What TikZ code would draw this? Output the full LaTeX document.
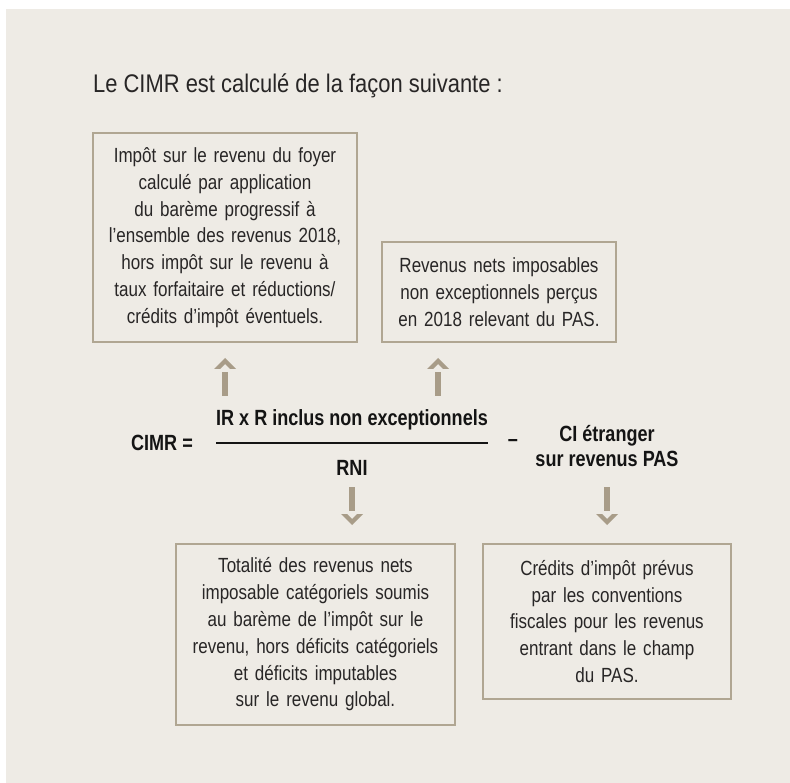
\documentclass[tikz,border=0pt]{standalone}
\usepackage{fontspec}
\setmainfont{Liberation Sans}[FakeStretch=0.83]
\newfontfamily\titrefont{Liberation Sans}[FakeStretch=0.86]
\newfontfamily\formulefont{Liberation Sans}[FakeStretch=0.82]

\definecolor{fondcolor}{RGB}{238,235,229}
\definecolor{cadrecolor}{RGB}{176,166,146}
\definecolor{flechecolor}{RGB}{168,156,136}
\definecolor{textecolor}{RGB}{40,38,38}
\definecolor{formulecolor}{RGB}{20,20,20}

\newlength{\du}
\setlength{\du}{1pt}

\tikzset{
  cadre/.style={draw=cadrecolor, line width=1.6\du, inner sep=0pt, align=center,
    text=textecolor, font=\fontsize{20.5}{26.8}\selectfont},
  titre/.style={inner sep=0pt, text=textecolor, font=\titrefont\fontsize{25.5}{30}\selectfont},
  formule/.style={inner sep=0pt, align=center, text=formulecolor,
    font=\formulefont\bfseries\fontsize{22}{24.5}\selectfont},
  fut/.style={draw=flechecolor, line width=6\du},
  chevron/.style={fill=flechecolor},
}

\begin{document}
\begin{tikzpicture}
\pgftransformxscale{1.000000}
\pgftransformyscale{-1.000000}
\useasboundingbox (0\du,0\du) rectangle (790\du,783\du);
\fill[fondcolor] (6\du,9\du) rectangle (790\du,783\du);
% titre
\node[titre, anchor=west] (titre) at (93\du,86\du) {Le CIMR est calculé de la façon suivante :};
% cadres
\node[cadre, text width=264\du, minimum height=209\du] (ir) at (225\du,237.5\du)
  {Impôt sur le revenu du foyer\\calculé par application\\du barème progressif à\\l’ensemble des revenus 2018,\\hors impôt sur le revenu à\\taux forfaitaire et réductions/\\crédits d’impôt éventuels.};
\node[cadre, text width=234\du, minimum height=100\du] (rnet) at (499\du,292\du)
  {Revenus nets imposables\\non exceptionnels perçus\\en 2018 relevant du PAS.};
\node[cadre, text width=279\du, minimum height=181\du] (rni) at (315.5\du,634.5\du)
  {Totalité des revenus nets\\imposable catégoriels soumis\\au barème de l’impôt sur le\\revenu, hors déficits catégoriels\\et déficits imputables\\sur le revenu global.};
\node[cadre, text width=248\du, minimum height=155\du] (ci) at (607\du,621.5\du)
  {Crédits d’impôt prévus\\par les conventions\\fiscales pour les revenus\\entrant dans le champ\\du PAS.};
% formule
\node[formule] (cimr) at (162\du,443\du) {CIMR =};
\node[formule] (num) at (352\du,420\du) {IR x R inclus non exceptionnels};
\node[formule] (den) at (352\du,468\du) {RNI};
\node[formule] (moins) at (513\du,443\du) {–};
\node[formule] (cietr) at (607\du,446\du) {CI étranger\\sur revenus PAS};
\coordinate (barreg) at (216\du,443\du);
\coordinate (barred) at (488\du,443\du);
\draw[formulecolor, line width=1.8\du] (barreg) -- (barred);
% fleches vers le haut
\coordinate (pied1) at (225\du,396\du);
\coordinate (haut1) at (225\du,372\du);
\coordinate (pointe1) at (225\du,358\du);
\draw[fut] (pied1) -- (haut1);
\fill[chevron] (pointe1) ++(-11\du,11\du) -- (pointe1) -- ++(11\du,11\du) -- ++(-6\du,0) -- ++(-5\du,-5\du) -- ++(-5\du,5\du) -- cycle;
\coordinate (pied2) at (438\du,396\du);
\coordinate (haut2) at (438\du,372\du);
\coordinate (pointe2) at (438\du,358\du);
\draw[fut] (pied2) -- (haut2);
\fill[chevron] (pointe2) ++(-11\du,11\du) -- (pointe2) -- ++(11\du,11\du) -- ++(-6\du,0) -- ++(-5\du,-5\du) -- ++(-5\du,5\du) -- cycle;
% fleches vers le bas
\coordinate (pied3) at (352\du,487\du);
\coordinate (bas3) at (352\du,511\du);
\coordinate (pointe3) at (352\du,525\du);
\draw[fut] (pied3) -- (bas3);
\fill[chevron] (pointe3) ++(-11\du,-11\du) -- (pointe3) -- ++(11\du,-11\du) -- ++(-6\du,0) -- ++(-5\du,5\du) -- ++(-5\du,-5\du) -- cycle;
\coordinate (pied4) at (607\du,487\du);
\coordinate (bas4) at (607\du,511\du);
\coordinate (pointe4) at (607\du,525\du);
\draw[fut] (pied4) -- (bas4);
\fill[chevron] (pointe4) ++(-11\du,-11\du) -- (pointe4) -- ++(11\du,-11\du) -- ++(-6\du,0) -- ++(-5\du,5\du) -- ++(-5\du,-5\du) -- cycle;
\end{tikzpicture}
\end{document}
